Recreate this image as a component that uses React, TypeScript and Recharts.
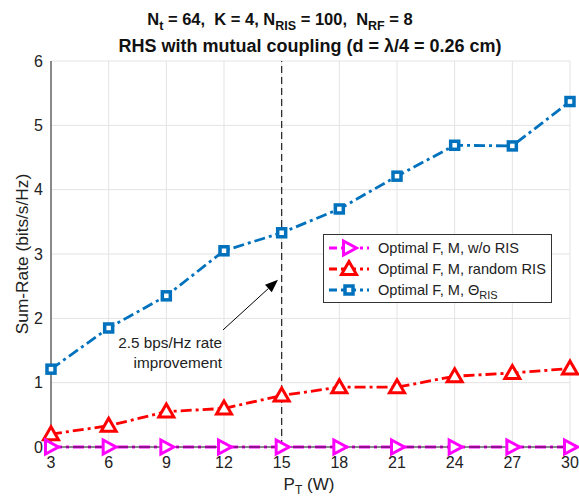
import React from 'react';
import { LineChart, Line, XAxis, YAxis, CartesianGrid, ReferenceLine } from 'recharts';

const powers = [3, 6, 9, 12, 15, 18, 21, 24, 27, 30];
const noRis = [0, 0, 0, 0, 0, 0, 0, 0, 0, 0];
const randomRis = [0.2, 0.33, 0.55, 0.6, 0.8, 0.93, 0.93, 1.1, 1.15, 1.22];
const optRis = [1.21, 1.85, 2.35, 3.05, 3.33, 3.7, 4.21, 4.69, 4.68, 5.37];
const yTicks = [0, 1, 2, 3, 4, 5, 6];
const arrowFrom = { x: 11.95, y: 1.82 };
const arrowTo = { x: 14.81, y: 2.6 };

const data = powers.map((p, i) => ({ p, none: noRis[i], rand: randomRis[i], opt: optRis[i] }));

const FONT = '"Liberation Sans", Arial, Helvetica, sans-serif';
const DASH = '11 4 3 4';

const RightTri = ({ cx, cy, color }: any) => (
  <polygon
    points={`${cx - 5.5},${cy - 7} ${cx + 7.5},${cy} ${cx - 5.5},${cy + 7}`}
    fill="#fff" stroke={color} strokeWidth={3} strokeLinejoin="miter"
  />
);
const UpTri = ({ cx, cy, color }: any) => (
  <polygon
    points={`${cx},${cy - 7.5} ${cx + 7.5},${cy + 5.5} ${cx - 7.5},${cy + 5.5}`}
    fill="#fff" stroke={color} strokeWidth={3} strokeLinejoin="miter"
  />
);
const Square = ({ cx, cy, color }: any) => (
  <rect x={cx - 4} y={cy - 4} width={8} height={8} fill="#fff" stroke={color} strokeWidth={3.5} />
);

const Arrow = (props: any) => {
  const { x1, y1, x2, y2 } = props;
  if (x1 == null) return null;
  const ang = Math.atan2(y2 - y1, x2 - x1);
  const len = 13;
  const w = 5;
  const bx = x2 - len * Math.cos(ang);
  const by = y2 - len * Math.sin(ang);
  const px = -Math.sin(ang) * w;
  const py = Math.cos(ang) * w;
  return (
    <g>
      <line x1={x1} y1={y1} x2={bx} y2={by} stroke="#000" strokeWidth={1} />
      <polygon points={`${x2},${y2} ${bx + px},${by + py} ${bx - px},${by - py}`} fill="#000" />
    </g>
  );
};

function LegendRow({ color, marker, children }: any) {
  return (
    <div style={{ display: 'flex', alignItems: 'center', height: 21 }}>
      <svg width={50} height={20}>
        <line x1={5} y1={10} x2={45} y2={10} stroke={color} strokeWidth={2.8} strokeDasharray="8 4 3 4" />
        {marker === 'right' && <RightTri cx={25} cy={10} color={color} />}
        {marker === 'up' && <UpTri cx={25} cy={10} color={color} />}
        {marker === 'square' && <Square cx={25} cy={10} color={color} />}
      </svg>
      <span style={{ marginLeft: 4, fontSize: 14.6, color: '#222', whiteSpace: 'nowrap' }}>{children}</span>
    </div>
  );
}

export default function App() {
  return (
    <div style={{ position: 'relative', width: 579, height: 497, background: '#fff', fontFamily: FONT, overflow: 'hidden' }}>
      <style>{'body { margin: 0; }'}</style>
      <LineChart width={579} height={497} data={data} margin={{ top: 61, right: 9, bottom: 0, left: 0 }}>
        <CartesianGrid stroke="#e3e3e3" strokeWidth={1} />
        <XAxis
          dataKey="p" type="number" domain={[3, 30]} ticks={powers} height={50}
          axisLine={{ stroke: '#222' }} tickLine={false} tickSize={0} tickMargin={10}
          tick={{ fill: '#222', fontSize: 16, fontFamily: FONT }}
        />
        <YAxis
          type="number" domain={[0, 6]} ticks={yTicks} width={51}
          axisLine={{ stroke: '#222' }} tickLine={false} tickSize={0} tickMargin={8}
          tick={{ fill: '#222', fontSize: 16, fontFamily: FONT }}
        />
        <ReferenceLine x={15} stroke="#222" strokeWidth={1.2} strokeDasharray="7 4" />
        <ReferenceLine segment={[arrowFrom, arrowTo]} shape={<Arrow />} />
        <Line
          dataKey="rand" stroke="#ff0000" strokeWidth={2.8} strokeDasharray={DASH}
          dot={(p: any) => <UpTri key={p.index} cx={p.cx} cy={p.cy} color="#ff0000" />}
          isAnimationActive={false}
        />
        <Line
          dataKey="opt" stroke="#0072bd" strokeWidth={2.8} strokeDasharray={DASH}
          dot={(p: any) => <Square key={p.index} cx={p.cx} cy={p.cy} color="#0072bd" />}
          isAnimationActive={false}
        />
        <Line
          dataKey="none" stroke="#ff00ff" strokeWidth={2.8} strokeDasharray={DASH}
          dot={(p: any) => <RightTri key={p.index} cx={p.cx} cy={p.cy} color="#ff00ff" />}
          isAnimationActive={false}
        />
      </LineChart>

      <svg width={579} height={497} style={{ position: 'absolute', left: 0, top: 0, pointerEvents: 'none' }}>
        <g fontFamily={FONT}>
          <text x={280} y={25} textAnchor="middle" fontSize={16.5} fontWeight="bold" fill="#111" xmlSpace="preserve">
            N<tspan fontSize={12.5} dy={5}>t</tspan>
            <tspan dy={-5}>{' = 64,  K = 4, N'}</tspan>
            <tspan fontSize={12.5} dy={5}>RIS</tspan>
            <tspan dy={-5}>{' = 100,  N'}</tspan>
            <tspan fontSize={12.5} dy={5}>RF</tspan>
            <tspan dy={-5}>{' = 8'}</tspan>
          </text>
          <text x={310} y={52} textAnchor="middle" fontSize={18} fontWeight="bold" fill="#111">
            RHS with mutual coupling (d = λ/4 = 0.26 cm)
          </text>
          <text x={222} y={348} textAnchor="end" fontSize={15.3} fill="#222">2.5 bps/Hz rate</text>
          <text x={222} y={368} textAnchor="end" fontSize={15.3} fill="#222">improvement</text>
          <text x={309} y={490} textAnchor="middle" fontSize={17} fill="#222">
            P<tspan fontSize={12} dy={4}>T</tspan>
            <tspan dy={-4}> (W)</tspan>
          </text>
          <text x={0} y={0} transform="translate(28,254) rotate(-90)" textAnchor="middle" fontSize={17.3} fill="#222">
            Sum-Rate (bits/s/Hz)
          </text>
        </g>
      </svg>

      <div
        style={{
          position: 'absolute', left: 323, top: 234, width: 229, height: 69,
          border: '1px solid #333', background: '#fff', boxSizing: 'border-box', padding: '2px 0 0 0',
        }}
      >
        <LegendRow color="#ff00ff" marker="right">Optimal F, M, w/o RIS</LegendRow>
        <LegendRow color="#ff0000" marker="up">Optimal F, M, random RIS</LegendRow>
        <LegendRow color="#0072bd" marker="square">
          Optimal F, M, Θ<sub style={{ fontSize: 11, lineHeight: 0 }}>RIS</sub>
        </LegendRow>
      </div>
    </div>
  );
}
